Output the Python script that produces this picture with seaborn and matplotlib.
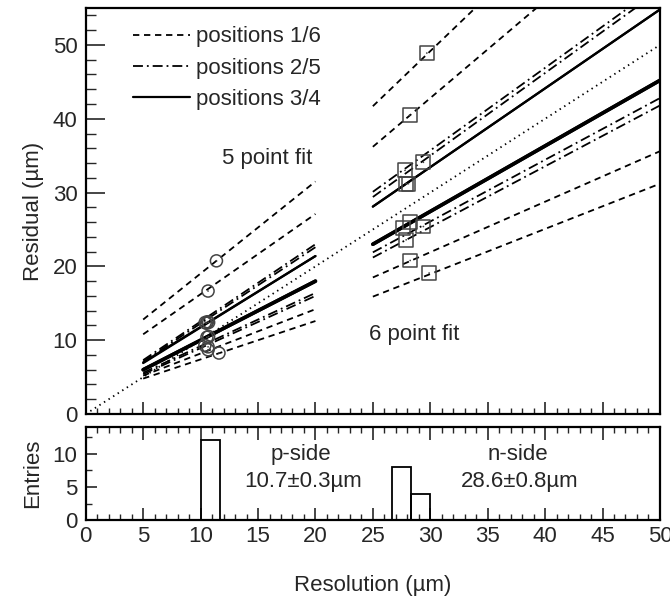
import numpy as np
import pandas as pd
import matplotlib
matplotlib.use("Agg")
import matplotlib.pyplot as plt
from matplotlib.ticker import MultipleLocator
from matplotlib.lines import Line2D
import seaborn as sns

# ---------------- data ----------------
# p-side (5..20 um range) fit lines: residual at resolution 5 and 20
p_range = [5, 20]
p_start = [12.8, 10.8, 7.3, 7.1, 7.0, 6.9, 6.0, 6.0, 5.6, 5.4, 5.2, 4.8]
p_end   = [31.5, 27.1, 23.0, 22.6, 21.4, 21.4, 18.0, 18.0, 16.4, 16.0, 14.2, 12.6]
# n-side (25..50 um range) fit lines: residual at resolution 25 and 50
n_range = [25, 50]
n_start = [41.7, 36.2, 30.1, 29.4, 28.1, 28.1, 23.0, 23.0, 21.9, 21.2, 18.5, 15.9]
n_end   = [79.0, 69.2, 58.1, 57.4, 54.8, 54.8, 45.2, 45.2, 42.8, 41.8, 35.6, 31.2]
line_pos = ["1/6", "1/6", "2/5", "2/5", "3/4", "3/4",
            "3/4", "3/4", "2/5", "2/5", "1/6", "1/6"]
line_fit = ["5", "5", "5", "5", "5", "5", "6", "6", "6", "6", "6", "6"]

# measured residuals and the resolutions they give
p_res_x = [11.38, 10.65, 10.40, 10.60, 10.50, 10.70, 10.55, 10.70, 10.37, 10.65, 10.65, 11.60]
p_res_y = [20.75, 16.66, 12.40, 12.50, 12.30, 12.40, 10.40, 10.50, 9.30, 9.10, 8.70, 8.26]
n_res_x = [29.70, 28.20, 27.80, 29.40, 27.90, 28.10, 27.60, 28.20, 29.40, 27.90, 28.25, 29.90]
n_res_y = [48.90, 40.50, 33.00, 34.10, 31.20, 31.20, 25.20, 26.00, 25.40, 23.60, 20.80, 19.10]

legend_labels = ["positions 1/6", "positions 2/5", "positions 3/4"]
p_text = ["p-side", "10.7\u00b10.3\u00b5m"]
n_text = ["n-side", "28.6\u00b10.8\u00b5m"]

# ---------------- style ----------------
sns.set_theme(style="ticks")
plt.rcParams["font.family"] = ["Liberation Sans", "DejaVu Sans"]
FS = 16
plt.rcParams["font.size"] = FS

fig = plt.figure(figsize=(6.70, 6.03), dpi=100)
ax = fig.add_axes([0.128, 0.3134, 0.857, 0.6733])
axh = fig.add_axes([0.128, 0.137, 0.857, 0.155])

styles = {
    "1/6": dict(linestyle=(0, (3.5, 2.6)), lw=1.3),
    "2/5": dict(linestyle=(0, (5.5, 2.2, 1.0, 2.2)), lw=1.3),
    "3/4": dict(linestyle="-", lw=1.6),
}
lw_fit6_solid = 2.6

for i in range(len(line_pos)):
    st = dict(styles[line_pos[i]])
    if line_pos[i] == "3/4" and line_fit[i] == "6":
        st["lw"] = lw_fit6_solid
    sns.lineplot(x=p_range, y=[p_start[i], p_end[i]], ax=ax, color="black", **st)
    sns.lineplot(x=n_range, y=[n_start[i], n_end[i]], ax=ax, color="black", **st)

# diagonal y = x
sns.lineplot(x=[0, 50], y=[0, 50], ax=ax, color="black",
             linestyle=(0, (0.8, 2.2)), lw=1.3)

# markers
sns.scatterplot(x=p_res_x, y=p_res_y, ax=ax, marker="o", s=75,
                facecolor="none", edgecolor="#444444", linewidth=1.1, zorder=5)
sns.scatterplot(x=p_res_x, y=p_res_y, ax=ax, marker=".", s=6,
                color="#444444", edgecolor="none", zorder=6)
sns.scatterplot(x=n_res_x, y=n_res_y, ax=ax, marker="s", s=100,
                facecolor="none", edgecolor="#444444", linewidth=1.1, zorder=5)
sns.scatterplot(x=n_res_x, y=n_res_y, ax=ax, marker=".", s=6,
                color="#444444", edgecolor="none", zorder=6)

ax.set_xlim(0, 50)
ax.set_ylim(0, 55)
ax.xaxis.set_major_locator(MultipleLocator(5))
ax.xaxis.set_minor_locator(MultipleLocator(1))
ax.yaxis.set_major_locator(MultipleLocator(10))
ax.yaxis.set_minor_locator(MultipleLocator(2))
ax.tick_params(axis="x", which="both", direction="in", labelbottom=False,
               bottom=True, top=False)
ax.tick_params(axis="x", which="major", length=9, width=1.2)
ax.tick_params(axis="x", which="minor", length=4.5, width=1.0)
ax.tick_params(axis="y", which="both", direction="in", left=True, right=False,
               labelsize=FS, pad=6)
ax.tick_params(axis="y", which="major", length=14, width=1.2)
ax.tick_params(axis="y", which="minor", length=7, width=1.0)
ax.set_xlabel("")
ax.set_ylabel("Residual (\u00b5m)", fontsize=FS, labelpad=6)

# legend
handles = [Line2D([], [], color="black", **styles[k]) for k in ["1/6", "2/5", "3/4"]]
ax.legend(handles, legend_labels, loc="upper left", bbox_to_anchor=(0.082, 0.955),
          frameon=False, fontsize=FS, handlelength=2.55, handletextpad=0.3,
          labelspacing=0.47, borderpad=0, borderaxespad=0)

ax.text(15.8, 34.6, "5 point fit", ha="center", va="center", fontsize=FS)
ax.text(28.6, 10.8, "6 point fit", ha="center", va="center", fontsize=FS)

# histogram
hist_df = pd.DataFrame({"res": p_res_x + n_res_x})
sns.histplot(data=hist_df, x="res", bins=np.linspace(0, 50, 31), ax=axh,
             element="bars", fill=False, color="black", linewidth=1.3)
axh.set_xlim(0, 50)
axh.set_ylim(0, 14)
axh.xaxis.set_major_locator(MultipleLocator(5))
axh.xaxis.set_minor_locator(MultipleLocator(1))
axh.yaxis.set_major_locator(MultipleLocator(5))
axh.yaxis.set_minor_locator(MultipleLocator(2.5))
axh.tick_params(axis="x", which="both", direction="in", bottom=True, top=True,
                labelsize=FS, pad=4)
axh.tick_params(axis="x", which="major", length=9, width=1.2)
axh.tick_params(axis="x", which="minor", length=4.5, width=1.0)
axh.tick_params(axis="y", which="both", direction="in", left=True, right=False,
                labelsize=FS, pad=6)
axh.tick_params(axis="y", which="major", length=8, width=1.2)
axh.tick_params(axis="y", which="minor", length=4, width=1.0)
axh.set_xlabel("Resolution (\u00b5m)", fontsize=FS, labelpad=20)
axh.set_ylabel("Entries", fontsize=FS, labelpad=7)

axh.text(18.7, 9.8, p_text[0], ha="center", va="center", fontsize=FS)
axh.text(18.9, 5.9, p_text[1], ha="center", va="center", fontsize=FS)
axh.text(37.6, 9.8, n_text[0], ha="center", va="center", fontsize=FS)
axh.text(37.8, 5.9, n_text[1], ha="center", va="center", fontsize=FS)

for a in (ax, axh):
    for s in a.spines.values():
        s.set_visible(True)
        s.set_linewidth(1.6)
        s.set_color("black")

fig.savefig("out.png", dpi=100, facecolor="white")
